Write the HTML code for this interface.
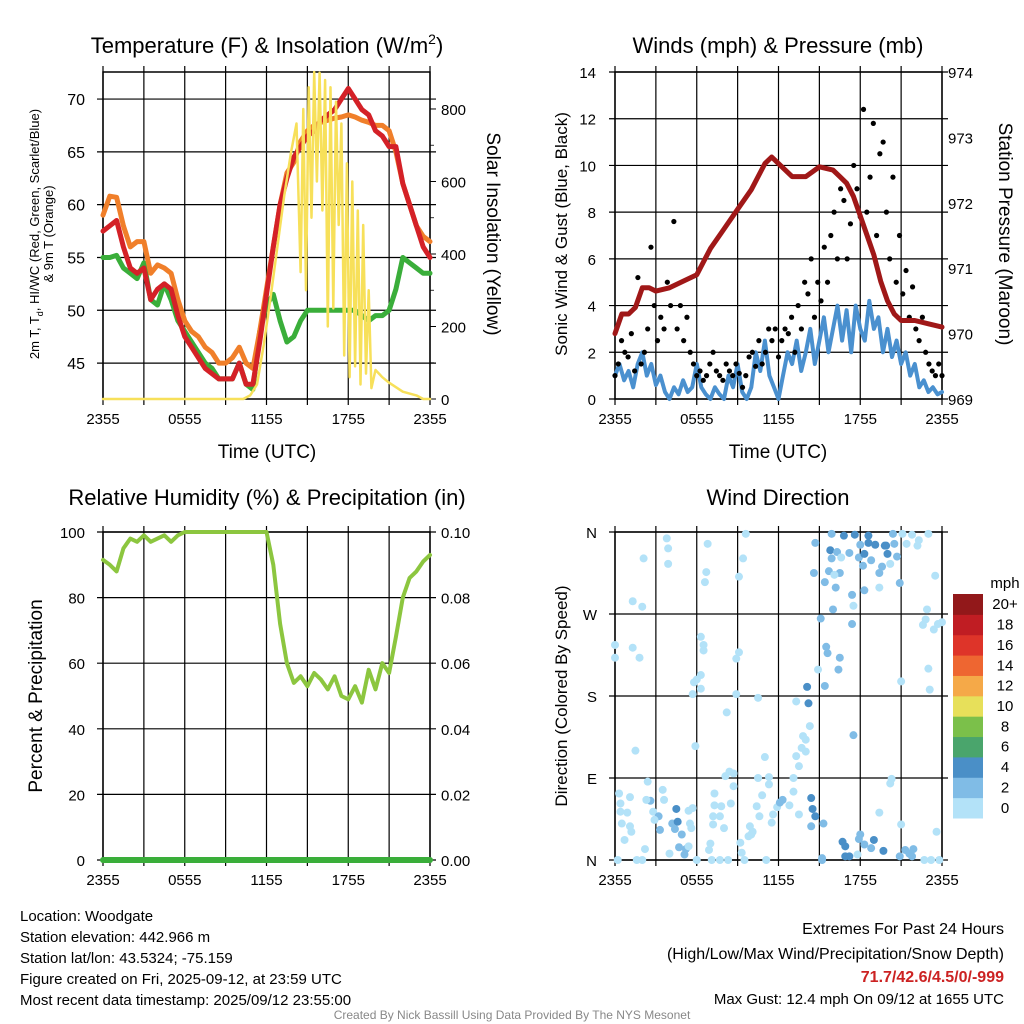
<!DOCTYPE html>
<html><head><meta charset="utf-8"><style>
html,body{margin:0;padding:0;background:#fff;}
svg{display:block;font-family:"Liberation Sans",Arial,sans-serif;}
</style></head><body>
<svg id="c" width="1024" height="1024" viewBox="0 0 1024 1024" xmlns="http://www.w3.org/2000/svg">
<rect width="1024" height="1024" fill="#fff"/>
</svg>
<script>
// ---------- DATA ----------
const xTickLabels = ["2355","0555","1155","1755","2355"];
const tempTicks = [45,50,55,60,65,70];
const solarTicks = [0,200,400,600,800];
const windTicks = [0,2,4,6,8,10,12,14];
const presTicks = [969,970,971,972,973,974];
const rhTicks = [0,20,40,60,80,100];
const precipTicks = ["0.00","0.02","0.04","0.06","0.08","0.10"];
const dirLabels = ["N","E","S","W","N"];
const cbLabels = ["0","2","4","6","8","10","12","14","16","18","20+"];
const cbColors = ["#b3e2f8","#80bce6","#4a8fc7","#4aa56c","#7bc04a","#e7e05a","#f5a948","#ee6631","#de3429","#c01d23","#92181a"];

const temp9m = [59,60.8,60.7,58,56,56.5,56.5,53.5,54.3,54,53.5,51,49,48,47.5,46.5,46,45,45,45.5,46.5,45,44.5,48,52,56,60,63,64,66,67,67.5,67.8,68,68.2,68.3,68.5,68.3,68,67.8,67.5,67.5,67,65,62,60,58,57,56.5];
const temp2m = [57.5,58,58.5,56,54,53.5,54,51,52,52.5,52,49.5,47.5,46.5,45.5,44.5,44,43.5,43.5,43.5,45,43,43,47,51.5,56,60,62.5,64.5,65.5,66.5,67,68,68.5,69,70,71,70,69,68.5,67,66.5,65.5,65.5,62,60,58,56,55];
const dewpt = [55,55,55.2,54,53.5,53,54.5,51,50.5,52.5,51,49,48,47,46,45,44.5,43.5,43.5,43.5,45,43,42.5,48,50.5,51.5,49,47,47.5,49,50,50,50,50,50,50,50,50,49.5,49,49.5,49.5,50,52,55,54.5,54,53.5,53.5];
const solarT = [0,10.3,10.8,11.3,11.8,12.3,12.8,13.3,13.8,14.2,14.5,14.7,14.9,15.1,15.3,15.5,15.7,15.9,16.1,16.3,16.5,16.7,16.9,17.1,17.3,17.5,17.7,17.9,18.1,18.3,18.5,18.7,18.9,19.1,19.3,19.5,19.7,20,20.5,21,22,23,23.5,24];
const solarV = [0,0,10,40,150,280,420,560,680,760,350,800,300,860,500,902,600,900,520,880,200,860,250,820,480,760,120,650,60,600,90,520,40,480,70,300,30,80,60,45,20,10,0,0];

const windSpd = [1,1.5,0.8,1.2,0.5,1.5,2,1,1.5,0.6,1,0.3,0,0.5,0.2,0.8,0.3,0.5,1.5,0.5,0.2,0,0.5,0.2,0,1,0.5,1.5,0.3,0,0.5,2,1.2,2.5,1,0.5,0,1,2,1.5,2.5,1.2,2,3,1.5,2.5,3.5,2,3,4,2.5,3.8,2,4,3,2.5,4.2,3,3.5,2,3,1.8,2.5,1.5,2,1,1.5,0.5,0.8,0.3,0.5,0.2,0.3];
const windGust = [1,1.5,2.5,2,1.8,2.8,1.2,5.2,1.5,2,3,6.5,4,2.5,3.5,3,5,4,7.6,3,4,2.5,3.5,2,1.5,1,1.2,0.8,1,1.5,2,1.2,1,0.8,1.5,1.2,1,1.5,1.1,0.5,1,1.8,2,1.4,2.5,1.5,2,3,2.5,3,1.8,2.5,3,2.8,3.5,2,4,3,5,4.5,6,3.5,5,4.2,6.5,5,7,8,6,9,8.5,6,7.5,10,9,7.8,12.4,8,9.5,11.8,7,10.5,11,8,6,9.5,5,7,4.5,5.5,3.5,4.8,3,2.5,3.5,2,1.5,1.2,1,1.5,1];
const presT = [0,0.5,1,1.5,2,2.5,3,4,5,6,7,8,9,10,10.5,11,11.5,12,12.5,13,14,15,16,16.5,17,17.5,18,18.5,19,19.5,20,20.5,21,22,23,24];
const presV = [970.0,970.3,970.3,970.4,970.7,970.7,970.65,970.7,970.8,970.9,971.3,971.6,971.9,972.2,972.4,972.6,972.7,972.6,972.5,972.4,972.4,972.55,972.5,972.4,972.3,972.1,971.8,971.5,971.2,970.8,970.5,970.3,970.2,970.2,970.15,970.1];

const rh = [91.5,90,88,95,98,97,99,97,98,99,97,99,100,100,100,100,100,100,100,100,100,100,100,100,100,90,72,60,54,56,53,57,55,52,56,50,49,53,48,58,52,60,57,68,80,86,88,91,93];
const rhT = [0,0.5,1,1.5,2,2.5,3,3.5,4,4.5,5,5.5,6,6.5,7,7.5,8,8.5,9,9.5,10,10.5,11,11.5,12,12.5,13,13.5,14,14.5,15,15.5,16,16.5,17,17.5,18,18.5,19,19.5,20,20.5,21,21.5,22,22.5,23,23.5,24];
const precip = [0,0,0,0,0,0,0,0,0,0,0,0,0];

const dirT = [2.1,3.8,3.9,3.9,1.3,2.0,0,0,1.3,1.8,1.5,2.4,0.3,0.4,0.4,0.9,1.1,0.5,1.1,1.2,0.7,2.2,0.2,1.6,2,2.6,2.3,2.8,3.2,3.3,2.9,3.5,3.6,4,4.5,4.2,4.4,4.6,4.9,4.7,5.2,5.1,5.4,5.6,5.5,5.4,5.7,6,6.8,6.7,6.6,6.3,6.5,6.5,6.3,6,5.8,6.3,5.7,5.9,7.3,7.3,7.2,7.2,7,6.9,7.1,7.7,8,7.8,8.2,8.1,8.4,8.7,8.7,8.5,7.7,8.3,8.9,8.9,9.1,9.1,9.4,9.6,9.2,9.3,9.5,10.5,9.9,10,10.1,9.8,10.6,10.4,10.8,11,10.5,11.3,11.3,11.6,11.5,11.9,11.1,12.1,12.3,12.8,13.1,13.1,13.5,13.3,13.3,13.7,13.8,14,14.3,13.5,14,14.1,14.2,14.4,14.5,14.7,14.4,15.3,15.2,14.7,14.6,15.4,14.9,15.5,15.6,15.1,16,15.4,15.7,16.2,15.9,15.8,15.9,16.3,16.6,16.5,16.1,16.8,16.5,16.4,17.2,17.4,17.4,17.5,17.6,18,17.9,18.2,18.3,18.6,18.6,18.8,19.1,19.6,19.4,19.8,20,19.9,20.2,20.5,20.7,20.4,20.9,18.3,19.4,17.5,19.4,18,17.9,18.3,18.8,19,19.7,16.7,16.9,16.9,17.2,17.8,15.2,20.2,20.3,21,21,20.9,21.3,21.6,21.9,21.8,22.7,23.2,23.8,21.1,21.4,21.8,22.3,22.2,23,23.5,22.9,22.8,22.6,23.4,23.7,24,23,23.1,23.6];
const dirDeg = [331,353,342,325,284,278,236,222,233,222,120,86,73,62,53,52,69,40,37,31,22,12,0,0,0,65,66,53,48,33,44,77,66,7,56,40,34,42,28,14,12,6,15,35,40,54,57,0,347,316,305,245,236,230,203,198,195,188,182,125,73,60,48,39,18,11,0,48,35,59,162,92,97,95,81,62,0,0,182,221,228,311,331,358,19,8,0,178,37,28,31,26,48,59,71,113,90,91,83,50,41,58,0,63,66,60,75,90,50,174,114,123,136,132,147,103,119,190,172,68,56,48,37,40,0,348,315,191,209,234,227,265,275,305,317,299,358,340,331,338,332,315,313,356,222,209,337,259,291,279,357,346,332,323,336,348,356,329,346,322,315,345,336,345,325,347,333,358,304,296,299,137,52,28,23,17,13,22,10,20,15,4,4,6,2,84,89,196,39,4,11,7,12,4,0,0,0,358,347,357,351,345,358,312,275,264,258,253,259,261,210,187,31];
const dirSpd = [0,0,0,0,0,0,0,0,0,0,0,0,0,0,0,0,0,0,0,0,0,0,0,0,0,2,1,0,2,2,0,0,0,0,3,2,2,3,2,2,2,2,0,0,0,0,0,0,0,0,0,0,0,0,0,0,0,0,0,0,0,0,0,0,0,0,0,0,0,0,0,0,0,0,0,0,0,0,0,0,0,0,0,0,0,0,0,0,0,0,0,0,0,0,0,0,0,0,0,0,0,0,0,2,2,0,0,0,0,0,0,0,0,0,0,0,0,3,3,3,3,3,2,2,2,2,2,2,0,2,2,2,2,2,2,2,2,3,2,2,0,2,0,3,2,2,2,2,2,0,3,2,2,2,3,3,3,2,3,2,2,3,3,3,0,2,2,2,2,2,0,2,0,2,2,2,2,3,3,3,3,3,3,0,2,0,0,0,0,2,2,2,2,2,0,0,0,1,0,0,0,0,0,0,0,0,0,0,0,0,0,0,0];

// ---------- HELPERS ----------
const NS="http://www.w3.org/2000/svg";
const svg=document.getElementById('c');
function mk(tag,attrs,parent){const e=document.createElementNS(NS,tag);for(const k in attrs)e.setAttribute(k,attrs[k]);(parent||svg).appendChild(e);return e;}
function txt(s,x,y,size,anchor,parent,extra){const e=mk('text',Object.assign({x:x,y:y,'font-size':size,'text-anchor':anchor||'start',fill:'#000'},extra||{}),parent);e.textContent=s;return e;}
function grp(name){const g=mk('g',{});return g;}
function poly(pts,color,w,parent,name){const p=mk('polyline',{points:pts.map(p=>p[0].toFixed(1)+','+p[1].toFixed(1)).join(' '),fill:'none',stroke:color,'stroke-width':w,'stroke-linejoin':'round','stroke-linecap':'round'},parent);return p;}

function panel(x0,x1,y0,y1){return{x0,x1,y0,y1,sx:t=>x0+t/24*(x1-x0)};}
function lin(dmin,dmax,pmin,pmax){return v=>pmin+(v-dmin)/(dmax-dmin)*(pmax-pmin);}
function frame(P,g,hLines){
  for(let h=0;h<=24;h+=3){const x=P.sx(h);const l=mk('line',{x1:x,x2:x,y1:P.y0-6,y2:P.y1+6,stroke:'#000','stroke-width':1.2},g);}
  hLines.forEach(y=>{const l=mk('line',{x1:P.x0-6,x2:P.x1+6,y1:y,y2:y,stroke:'#000','stroke-width':1.2},g);});
  const r=mk('rect',{x:P.x0,y:P.y0,width:P.x1-P.x0,height:P.y1-P.y0,fill:'none',stroke:'#000','stroke-width':1.5},g);
  xTickLabels.forEach((s,i)=>{const t=txt(s,P.sx(i*6),P.y1+25,15,'middle',g);});
}

// ---------- PANEL 1 ----------
(function(){
const P=panel(103,430,72,399);
const g=grp('temperature-panel');
const ty=lin(41.6,72.56,399,72), sy=lin(0,902,399,72);
frame(P,g,tempTicks.map(ty));
tempTicks.forEach(v=>{const t=txt(String(v),85,ty(v)+6,16,'end',g);});
solarTicks.forEach(v=>{const t=txt(String(v),441,sy(v)+6,15,'start',g);
 mk('line',{x1:P.x1,x2:P.x1+6,y1:sy(v),y2:sy(v),stroke:'#000','stroke-width':1},g);});
for(let v=100;v<900;v+=200){mk('line',{x1:P.x1,x2:P.x1+4,y1:sy(v),y2:sy(v),stroke:'#000','stroke-width':0.8},g);}
const step=a=>24/(a.length-1);
poly(dewpt.map((v,i)=>[P.sx(i*step(dewpt)),ty(v)]),'#3aae3a',5,g,'dewpoint-line');
poly(temp9m.map((v,i)=>[P.sx(i*step(temp9m)),ty(v)]),'#f07f2a',5,g,'temp-9m-line');
poly(temp2m.map((v,i)=>[P.sx(i*step(temp2m)),ty(v)]),'#d42127',5,g,'temp-2m-line');
poly(solarV.map((v,i)=>[P.sx(solarT[i]),Math.max(72,sy(v))]),'#f7e05a',2.5,g,'solar-line');
const tt=txt('',267,53,22,'middle',g);
tt.innerHTML='Temperature (F) &amp; Insolation (W/m<tspan dy="-9" font-size="14">2</tspan><tspan dy="9">)</tspan>';
const a=txt('',39,234,13,'middle',g,{transform:'rotate(-90 39 234)'});
a.innerHTML='2m T, T<tspan dy="4" font-size="9">d</tspan><tspan dy="-4">, HI/WC (Red, Green, Scarlet/Blue)</tspan>';
const b=txt('& 9m T (Orange)',53,234,13,'middle',g,{transform:'rotate(-90 53 234)'});
const c=txt('Solar Insolation (Yellow)',487,234,19,'middle',g,{transform:'rotate(90 487 234)'});
const d=txt('Time (UTC)',267,458,19,'middle',g);
})();

// ---------- PANEL 2 ----------
(function(){
const P=panel(615,942,72,399);
const g=grp('winds-panel');
const wy=lin(0,14,399,72), py=lin(969,974,399,72);
frame(P,g,windTicks.map(wy));
windTicks.forEach(v=>{const t=txt(String(v),596,wy(v)+6,15,'end',g);});
presTicks.forEach(v=>{const t=txt(String(v),948,py(v)+6,15,'start',g);});
poly(windSpd.map((v,i)=>[P.sx(i*24/(windSpd.length-1)),wy(v)]),'#4a90cf',4,g,'wind-speed-line');
windGust.forEach((v,i)=>{const c=mk('circle',{cx:P.sx(i*24/(windGust.length-1)),cy:wy(v),r:2.6,fill:'#000'},g);});
poly(presV.map((v,i)=>[P.sx(presT[i]),py(v)]),'#a01818',5,g,'pressure-line');
const tt=txt('Winds (mph) & Pressure (mb)',778,53,22,'middle',g);
const a=txt('Sonic Wind & Gust (Blue, Black)',567,234,17,'middle',g,{transform:'rotate(-90 567 234)'});
const c=txt('Station Pressure (Maroon)',999,234,19,'middle',g,{transform:'rotate(90 999 234)'});
const d=txt('Time (UTC)',778,458,19,'middle',g);
})();

// ---------- PANEL 3 ----------
(function(){
const P=panel(103,430,532,860);
const g=grp('humidity-panel');
const ry=lin(0,100,860,532);
frame(P,g,rhTicks.map(ry));
rhTicks.forEach(v=>{const t=txt(String(v),85,ry(v)+6,15,'end',g);});
precipTicks.forEach((s,i)=>{const t=txt(s,441,ry(i*20)+6,15,'start',g);});
poly(rh.map((v,i)=>[P.sx(rhT[i]),ry(v)]),'#8cc63f',4,g,'rh-line');
poly(precip.map((v,i)=>[P.sx(i*24/(precip.length-1)),ry(v*1000)]),'#3aae3a',6,g,'precip-line');
const tt=txt('Relative Humidity (%) & Precipitation (in)',267,505,22,'middle',g);
const a=txt('Percent & Precipitation',42,696,19,'middle',g,{transform:'rotate(-90 42 696)'});
})();

// ---------- PANEL 4 ----------
(function(){
const P=panel(615,942,532,860);
const g=grp('wind-direction-panel');
const dy=lin(0,360,860,532);
frame(P,g,[0,90,180,270,360].map(dy));
dirLabels.forEach((s,i)=>{const t=txt(s,597,dy(i*90)+6,15,'end',g);});
const spdColors=["#b3e2f8","#b3e2f8","#80bce6","#4a8fc7"];
dirT.forEach((t,i)=>{const c=mk('circle',{cx:P.sx(t),cy:dy(dirDeg[i]),r:4,fill:spdColors[dirSpd[i]]||spdColors[0]},g);});
const tt=txt('Wind Direction',778,505,22,'middle',g);
const a=txt('Direction (Colored By Speed)',567,696,17,'middle',g,{transform:'rotate(-90 567 696)'});
const lg=grp('speed-colorbar');
const h=(818-594)/cbColors.length;
cbColors.forEach((col,i)=>{const r=mk('rect',{x:953,y:818-(i+1)*h,width:30,height:h+0.5,fill:col},lg);
 const t=txt(cbLabels[i],1005,818-(i+0.5)*h+5,15,'middle',lg);});
const m=txt('mph',1005,588,15,'middle',lg);
})();

// ---------- FOOTER ----------
(function(){
function t(s,x,y,size,anchor,fill,weight,name){const e=document.createElementNS(NS,'text');e.setAttribute('x',x);e.setAttribute('y',y);e.setAttribute('font-size',size);e.setAttribute('text-anchor',anchor);e.setAttribute('fill',fill);if(weight)e.setAttribute('font-weight',weight);e.textContent=s;


svg.appendChild(e);}
t('Location: Woodgate',20,921,15,'start','#000',null,'station-location');
t('Station elevation: 442.966 m',20,942,15,'start','#000',null,'station-elevation');
t('Station lat/lon: 43.5324; -75.159',20,963,15,'start','#000',null,'station-latlon');
t('Figure created on Fri, 2025-09-12, at 23:59 UTC',20,984,15,'start','#000',null,'figure-created');
t('Most recent data timestamp: 2025/09/12 23:55:00',20,1005,15,'start','#000',null,'data-timestamp');
t('Extremes For Past 24 Hours',1004,934,16,'end','#000',null,'extremes-title');
t('(High/Low/Max Wind/Precipitation/Snow Depth)',1004,959,16,'end','#000',null,'extremes-subtitle');
t('71.7/42.6/4.5/0/-999',1004,982,16,'end','#cc2222','bold','extremes-values');
t('Max Gust: 12.4 mph On 09/12 at 1655 UTC',1004,1004,15,'end','#000',null,'max-gust');
t('Created By Nick Bassill Using Data Provided By The NYS Mesonet',512,1019,12,'middle','#888',null,'credit');
})();
</script>
</body></html>
